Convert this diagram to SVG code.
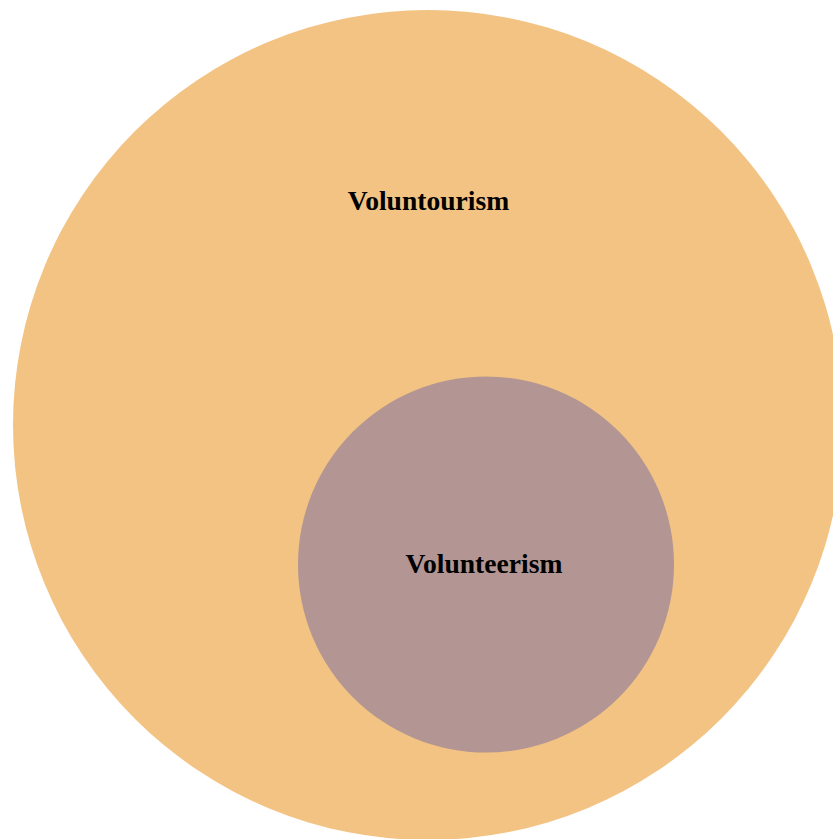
<svg xmlns="http://www.w3.org/2000/svg" width="833" height="839" viewBox="0 0 833 839">
<style>
.lbl{font-family:"Liberation Serif","Times New Roman",serif;font-weight:bold;font-size:27.6px;fill:#000;text-anchor:middle}
</style>
<rect width="833" height="839" fill="#ffffff"/>
<g id="voluntourism">
<circle cx="428" cy="425" r="415" fill="#F3C383"/>
<text class="lbl" x="428.5" y="210">Voluntourism</text>
</g>
<g id="volunteerism">
<circle cx="486" cy="564.5" r="188" fill="#B39693"/>
<text class="lbl" x="484" y="573">Volunteerism</text>
</g>
<g id="connectors"/>
</svg>
